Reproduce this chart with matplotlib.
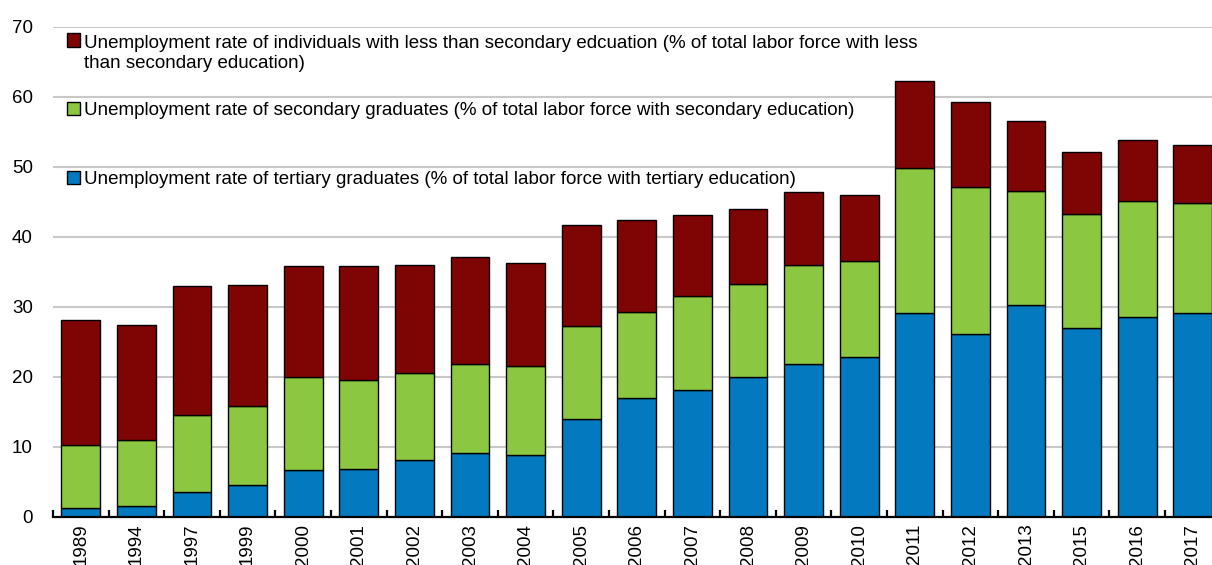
import matplotlib
matplotlib.use("Agg")
import matplotlib.pyplot as plt
from matplotlib.patches import Rectangle
import numpy as np

plt.rcParams['font.family'] = ['Liberation Sans', 'DejaVu Sans']

years = ['1989', '1994', '1997', '1999', '2000', '2001', '2002', '2003', '2004', '2005',
         '2006', '2007', '2008', '2009', '2010', '2011', '2012', '2013', '2015', '2016', '2017']
tertiary = [1.2, 1.6, 3.6, 4.5, 6.7, 6.8, 8.1, 9.1, 8.8, 14.0,
            16.9, 18.1, 19.9, 21.8, 22.8, 29.1, 26.1, 30.2, 26.9, 28.5, 29.1]
secondary = [9.1, 9.3, 10.9, 11.3, 13.3, 12.7, 12.4, 12.7, 12.8, 13.3,
             12.4, 13.5, 13.4, 14.1, 13.8, 20.7, 21.0, 16.4, 16.3, 16.6, 15.7]
below_secondary = [17.8, 16.5, 18.5, 17.3, 15.8, 16.3, 15.5, 15.3, 14.7, 14.4,
                   13.1, 11.5, 10.7, 10.5, 9.3, 12.5, 12.2, 9.9, 8.9, 8.7, 8.3]

labels = [
    ["Unemployment rate of individuals with less than secondary edcuation (% of total labor force with less",
     "than secondary education)"],
    ["Unemployment rate of secondary graduates (% of total labor force with secondary education)"],
    ["Unemployment rate of tertiary graduates (% of total labor force with tertiary education)"],
]
c_red, c_green, c_blue = '#7f0505', '#8cc742', '#037ac0'

W, H = 1212, 565
fig = plt.figure(figsize=(W / 100, H / 100), dpi=100)
ax = fig.add_axes([53 / W, (H - 516.7) / H, 1167.6 / W, 490 / H])

x = np.arange(len(years))
t = np.array(tertiary)
s = np.array(secondary)
b = np.array(below_secondary)
kw = dict(width=0.70, edgecolor='black', linewidth=1.0, zorder=3)
ax.bar(x, t, color=c_blue, **kw)
ax.bar(x, s, bottom=t, color=c_green, **kw)
ax.bar(x, b, bottom=t + s, color=c_red, **kw)

ax.set_xlim(-0.5, len(years) - 0.5)
ax.set_ylim(0, 70)
ax.set_yticks(np.arange(0, 71, 10))
ax.yaxis.grid(True, color='#c8c8c8', linewidth=1.5, zorder=0)
ax.set_axisbelow(True)

for side in ('left', 'right', 'top'):
    ax.spines[side].set_visible(False)
ax.spines['bottom'].set_linewidth(1.6)
ax.spines['bottom'].set_zorder(4)

ax.tick_params(axis='y', length=0, pad=14.5, labelsize=13.5)
ax.set_xticks(x)
ax.set_xticklabels(years, rotation=90, fontsize=13.5)
ax.tick_params(axis='x', which='major', length=0, pad=5)
ax.set_xticks(np.arange(-0.5, len(years), 1.0), minor=True)
ax.tick_params(axis='x', which='minor', direction='in', length=5, width=1.6, color='black')

# legend drawn in pixel positions of the figure
def fx(px):
    return px / W

def fy(py):
    return 1 - py / H

entries = [(c_red, 33.5, 47.7, labels[0]),
           (c_green, 101.7, 115.0, labels[1]),
           (c_blue, 170.7, 184.0, labels[2])]
for color, top, base, lines in entries:
    fig.add_artist(Rectangle((fx(67), fy(top + 13)), 13 / W, 13 / H, transform=fig.transFigure,
                             facecolor=color, edgecolor='black', linewidth=1.0, zorder=5))
    for i, line in enumerate(lines):
        fig.text(fx(84), fy(base + 20.3 * i), line, fontsize=13.5, va='baseline',
                 ha='left', zorder=5)

fig.savefig('out.png', dpi=100)
